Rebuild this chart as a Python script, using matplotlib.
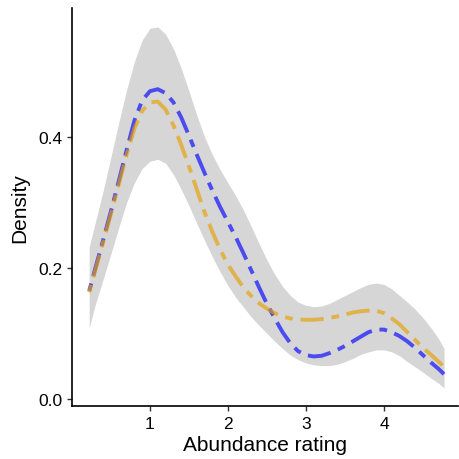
import matplotlib
matplotlib.use("Agg")
import matplotlib.pyplot as plt

plt.rcParams['font.family'] = ['Liberation Sans', 'DejaVu Sans']

x = [0.22, 0.3, 0.4, 0.5, 0.6, 0.7, 0.8, 0.9, 1.0, 1.1, 1.2, 1.3, 1.4, 1.5, 1.6, 1.7,
     1.8, 1.9, 2.0, 2.1, 2.2, 2.3, 2.4, 2.5, 2.6, 2.7, 2.8, 2.9, 3.0, 3.1, 3.2, 3.3,
     3.4, 3.5, 3.6, 3.7, 3.8, 3.9, 4.0, 4.1, 4.2, 4.3, 4.4, 4.5, 4.6, 4.7, 4.77]

blue = [0.165, 0.2, 0.243, 0.287, 0.333, 0.38, 0.425, 0.456, 0.47, 0.473, 0.467, 0.453,
        0.43, 0.402, 0.373, 0.345, 0.318, 0.293, 0.27, 0.247, 0.222, 0.196, 0.17, 0.145,
        0.123, 0.102, 0.085, 0.073, 0.067, 0.065, 0.066, 0.07, 0.075, 0.081, 0.088, 0.095,
        0.102, 0.106, 0.106, 0.102, 0.096, 0.088, 0.078, 0.067, 0.056, 0.046, 0.038]

orange = [0.163, 0.197, 0.24, 0.283, 0.328, 0.373, 0.413, 0.44, 0.453, 0.454, 0.442, 0.418,
          0.388, 0.355, 0.32, 0.285, 0.255, 0.228, 0.205, 0.187, 0.17, 0.157, 0.146, 0.138,
          0.131, 0.126, 0.123, 0.121, 0.121, 0.121, 0.122, 0.124, 0.126, 0.129, 0.132, 0.134,
          0.135, 0.135, 0.131, 0.123, 0.114, 0.102, 0.09, 0.078, 0.068, 0.057, 0.049]

band_upper = [0.232, 0.27, 0.318, 0.37, 0.422, 0.472, 0.515, 0.548, 0.566, 0.568, 0.557,
              0.535, 0.505, 0.47, 0.433, 0.4, 0.373, 0.35, 0.33, 0.31, 0.288, 0.263, 0.237,
              0.212, 0.19, 0.172, 0.158, 0.148, 0.143, 0.141, 0.142, 0.146, 0.152, 0.158,
              0.164, 0.17, 0.175, 0.177, 0.175, 0.168, 0.158, 0.148, 0.137, 0.124, 0.109,
              0.092, 0.077]

band_lower = [0.108, 0.145, 0.183, 0.222, 0.262, 0.3, 0.33, 0.352, 0.363, 0.366, 0.36,
              0.343, 0.32, 0.295, 0.268, 0.242, 0.217, 0.194, 0.173, 0.155, 0.14, 0.125,
              0.112, 0.1, 0.088, 0.077, 0.067, 0.06, 0.055, 0.052, 0.051, 0.051, 0.053,
              0.057, 0.062, 0.068, 0.072, 0.075, 0.075, 0.072, 0.066, 0.057, 0.049, 0.041,
              0.032, 0.024, 0.017]

xticks = [1, 2, 3, 4]
yticks = [0.0, 0.2, 0.4]
ytick_labels = ["0.0", "0.2", "0.4"]

fig = plt.figure(figsize=(4.59, 4.60), dpi=100)
ax = fig.add_axes([72/459, (460-406.7)/460, (458-72)/459, (406.7-9.3)/460])

ax.fill_between(x, band_lower, band_upper, color='#D6D6D6', lw=0)
ax.plot(x, blue, color='blue', alpha=0.65, lw=2.8, linestyle=(0, (2, 2, 6, 2)),
        solid_capstyle='butt', dash_capstyle='butt', solid_joinstyle='round',
        dash_joinstyle='round')
ax.plot(x, orange, color='#E69F00', alpha=0.65, lw=2.8, linestyle=(0, (2, 2, 6, 2)),
        solid_capstyle='butt', dash_capstyle='butt', solid_joinstyle='round',
        dash_joinstyle='round')

ax.set_xlim(0.0, 4.949)
ax.set_ylim(-0.0102, 0.5965)
ax.set_xticks(xticks)
ax.set_yticks(yticks)
ax.set_yticklabels(ytick_labels)

for s in ['top', 'right']:
    ax.spines[s].set_visible(False)
for s in ['left', 'bottom']:
    ax.spines[s].set_linewidth(1.2)
    ax.spines[s].set_color('black')

ax.tick_params(axis='both', length=3.8, width=1.0, color='#333333', labelsize=12.5,
               labelcolor='black', pad=3.3)

ax.set_xlabel("Abundance rating", fontsize=15, labelpad=3)
ax.set_ylabel("Density", fontsize=15, labelpad=6)

fig.savefig("out.png", dpi=100)
